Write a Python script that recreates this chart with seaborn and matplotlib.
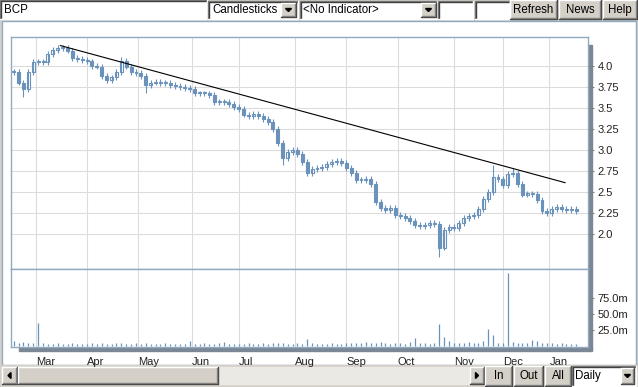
import numpy as np
import pandas as pd
import matplotlib
matplotlib.use('Agg')
import matplotlib.pyplot as plt
from matplotlib.patches import Rectangle, Polygon
import seaborn as sns

symbol = 'BCP'
chart_type = 'Candlesticks'
indicator = '<No Indicator>'
month_names = ['Feb', 'Mar', 'Apr', 'May', 'Jun', 'Jul', 'Aug', 'Sep', 'Oct', 'Nov', 'Dec', 'Jan']
month_days = [9, 21, 21, 22, 19, 23, 21, 21, 23, 20, 19, 12]
price_ticks = [2.0, 2.25, 2.5, 2.75, 3.0, 3.25, 3.5, 3.75, 4.0]
price_labels = ['2.0', '2.25', '2.5', '2.75', '3.0', '3.25', '3.5', '3.75', '4.0']
vol_ticks = [25, 50, 75]
vol_labels = ['25.0m', '50.0m', '75.0m']

# close read every second trading day
close = [3.93, 3.80, 3.72, 3.92, 4.04, 4.05, 4.04, 4.14, 4.19, 4.21,
         4.21, 4.18, 4.09, 4.08, 4.07, 4.05, 4.00, 3.99, 3.88, 3.83,
         3.86, 3.93, 4.06, 3.99, 3.93, 3.91, 3.88, 3.77, 3.80, 3.81,
         3.79, 3.79, 3.77, 3.76, 3.75, 3.73, 3.72, 3.67, 3.67, 3.67,
         3.65, 3.57, 3.57, 3.57, 3.54, 3.51, 3.49, 3.42, 3.40, 3.43,
         3.40, 3.37, 3.33, 3.25, 3.08, 2.90, 2.97, 3.00, 2.95, 2.86,
         2.73, 2.77, 2.78, 2.80, 2.83, 2.86, 2.87, 2.84, 2.79, 2.73,
         2.64, 2.64, 2.66, 2.60, 2.38, 2.31, 2.29, 2.31, 2.23, 2.21,
         2.19, 2.15, 2.11, 2.09, 2.11, 2.13, 2.12, 1.84, 2.05, 2.08,
         2.07, 2.13, 2.19, 2.21, 2.23, 2.30, 2.42, 2.50, 2.68, 2.65,
         2.58, 2.71, 2.73, 2.60, 2.47, 2.48, 2.48, 2.40, 2.27, 2.25,
         2.30, 2.32, 2.30, 2.29, 2.30, 2.27]
# volume in millions, same days
volume = [8, 5, 6, 4, 5, 36, 4, 3, 3, 4,
          3, 3, 4, 3, 3, 3, 4, 3, 4, 3,
          3, 4, 5, 3, 3, 4, 3, 5, 3, 3,
          3, 4, 3, 3, 3, 3, 7, 3, 3, 4,
          3, 3, 4, 6, 3, 3, 3, 3, 4, 3,
          3, 4, 3, 4, 5, 4, 3, 3, 4, 3,
          11, 4, 3, 3, 3, 4, 3, 3, 5, 4,
          5, 4, 6, 4, 5, 6, 4, 3, 4, 5,
          3, 6, 12, 4, 5, 3, 4, 34, 14, 8,
          4, 5, 4, 6, 4, 5, 7, 27, 17, 5,
          5, 114, 6, 4, 5, 4, 9, 8, 4, 5,
          4, 3, 4, 3, 3, 3]
extra_low = {4: 3.63, 54: 3.67, 110: 2.82, 174: 1.73}
extra_high = {44: 4.10, 196: 2.82, 204: 2.78}
trend_day = [19, 225.5]
trend_price = [4.24, 2.61]

day = np.arange(0, 2 * len(close), 2)
month_start = np.concatenate([[0], np.cumsum(month_days)[:-1]])

sns.set_style('white')
plt.rcParams['font.family'] = ['Liberation Sans', 'DejaVu Sans']

GRAY = '#d4d0c8'
BLUE = '#6a92bb'
FRAME = '#90aac4'
TXT = '#222222'

fig = plt.figure(figsize=(6.38, 3.87), dpi=100)
bg = fig.add_axes([0, 0, 1, 1], zorder=0)
bg.set_xlim(0, 638)
bg.set_ylim(387, 0)
bg.axis('off')
bg.add_patch(Rectangle((0, 0), 638, 387, color=GRAY))
bg.add_patch(Rectangle((2, 21), 634, 344, facecolor='white', edgecolor=FRAME, lw=1))


def raised(x, y, w, h, face=GRAY):
    bg.add_patch(Rectangle((x, y), w, h, facecolor=face, edgecolor='none'))
    bg.plot([x, x, x + w], [y + h, y, y], color='white', lw=1)
    bg.plot([x, x + w, x + w], [y + h, y + h, y], color='#404040', lw=1)
    bg.plot([x + 1, x + w - 1, x + w - 1], [y + h - 1, y + h - 1, y + 1], color='#808080', lw=1)


def sunken(x, y, w, h):
    bg.add_patch(Rectangle((x, y), w, h, facecolor='white', edgecolor='none'))
    bg.plot([x, x, x + w], [y + h, y, y], color='#808080', lw=1)
    bg.plot([x + 1, x + 1, x + w - 1], [y + h - 1, y + 1, y + 1], color='#404040', lw=1)
    bg.plot([x, x + w, x + w], [y + h, y + h, y], color='white', lw=1)


def arrow(cx, cy, d):
    if d == 'down':
        pts = [(cx - 3, cy - 1.5), (cx + 3, cy - 1.5), (cx, cy + 1.5)]
    elif d == 'left':
        pts = [(cx + 1.5, cy - 3), (cx + 1.5, cy + 3), (cx - 1.5, cy)]
    else:
        pts = [(cx - 1.5, cy - 3), (cx - 1.5, cy + 3), (cx + 1.5, cy)]
    bg.add_patch(Polygon(pts, closed=True, color='black'))


def label(x, y, s, ha='left'):
    bg.text(x, y, s, ha=ha, va='center', fontsize=8.3, color='black')


# top toolbar
sunken(0, 0, 207, 19)
label(4, 10, symbol)
sunken(208, 1, 90, 18)
label(212, 10, chart_type)
raised(281, 3, 15, 14)
arrow(288.5, 10, 'down')
sunken(300, 1, 137, 18)
label(303, 10, indicator)
raised(421, 3, 15, 14)
arrow(428.5, 10, 'down')
sunken(438, 1, 35, 18)
sunken(475, 1, 35, 18)
for x, w, s in [(510, 47, 'Refresh'), (559, 42, 'News'), (603, 34, 'Help')]:
    raised(x, 0, w, 19)
    label(x + w / 2, 10, s, ha='center')

# bottom strip
bg.add_patch(Rectangle((0, 365), 638, 22, color=GRAY))
bg.add_patch(Rectangle((17, 367), 453, 17, color='#ebe9e3'))
raised(2, 367, 15, 17)
arrow(9.5, 375.5, 'left')
raised(18, 367, 200, 17)
raised(470, 367, 14, 17)
arrow(477, 375.5, 'right')
for x, w, s in [(485, 27, 'In'), (514, 29, 'Out'), (545, 26, 'All')]:
    raised(x, 366, w, 20)
    label(x + w / 2, 376, s, ha='center')
sunken(572, 366, 64, 20)
label(575, 376, 'Daily')
raised(621, 368, 13, 16)
arrow(627.5, 376, 'down')

# shadow of the chart frame
bg.add_patch(Rectangle((588, 45), 3.5, 305, color='#7b8794'))
bg.add_patch(Rectangle((19, 347), 572.5, 3.5, color='#7b8794'))

W, H = 638.0, 387.0
xlim = (-1.1, 234.8)
ax_p = fig.add_axes([11 / W, 1 - 269 / H, 577 / W, 232 / H], zorder=2)
ax_v = fig.add_axes([11 / W, 1 - 347 / H, 577 / W, 78 / H], zorder=2)

for ax in (ax_p, ax_v):
    ax.set_facecolor('white')
    ax.set_xlim(*xlim)
    for sp in ax.spines.values():
        sp.set_color(FRAME)
        sp.set_linewidth(1)
    ax.set_xticks(month_start[1:])
    ax.grid(axis='x', color='#dcdcdc', lw=0.8)
    ax.set_axisbelow(True)
    ax.yaxis.tick_right()
    ax.tick_params(axis='y', length=4, width=0.8, color='#808080', pad=3,
                   labelsize=8, labelcolor=TXT)

# price panel
ax_p.set_ylim(1.585, 4.341)
ax_p.set_yticks(price_ticks)
ax_p.set_yticklabels(price_labels)
ax_p.grid(axis='y', color='#dcdcdc', lw=0.8)
ax_p.tick_params(axis='x', length=0, labelbottom=False)

opens = [close[0]] + close[:-1]
for d, o, c in zip(day, opens, close):
    lo = extra_low.get(d, min(o, c) - 0.035)
    hi = extra_high.get(d, max(o, c) + 0.035)
    ax_p.vlines(d, lo, hi, color=BLUE, lw=0.8)
    ax_p.bar(d, max(abs(c - o), 0.012), bottom=min(o, c), width=1.2,
             facecolor='white' if c >= o else BLUE, edgecolor=BLUE, lw=0.8)

sns.lineplot(x=trend_day, y=trend_price, color='black', lw=0.8, ax=ax_p)

# volume panel
ax_v.set_ylim(-1.6, 120.3)
ax_v.set_yticks(vol_ticks)
ax_v.set_yticklabels(vol_labels)
ax_v.vlines(day, 0, volume, color=BLUE, lw=0.9)
ax_v.set_xticklabels(month_names[1:], ha='left')
ax_v.tick_params(axis='x', length=4, width=0.8, color='#808080', pad=3,
                 labelsize=8, labelcolor=TXT)
ax_v.set_xlabel('')
ax_v.set_ylabel('')

fig.savefig('out.png', dpi=100)
